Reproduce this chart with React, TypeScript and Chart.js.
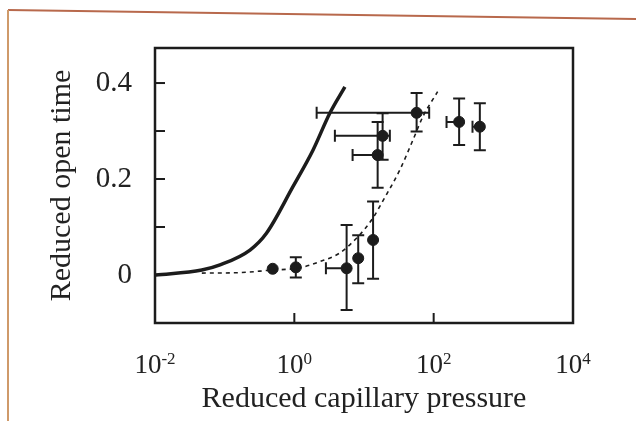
import React, { useEffect, useRef } from "react";
import { Chart, registerables } from "chart.js";

Chart.register(...registerables);

// Theory curve (solid)
const theoryX = [0.0102, 0.047, 0.0857, 0.231, 0.4, 0.955, 1.85, 3.24, 5.32];
const theoryY = [0, 0.0104, 0.021, 0.052, 0.0875, 0.184, 0.26, 0.3375, 0.392];

// Fit curve (dashed)
const fitX = [0.047, 0.166, 0.447, 1.2, 2.33, 4.5, 8.2, 12.9, 21.1, 32.7, 50.3, 70, 114];
const fitY = [0.004, 0.005, 0.01, 0.015, 0.028, 0.046, 0.08, 0.115, 0.168, 0.219, 0.281, 0.33, 0.382];

// Measured points with error bars
const ptX = [0.489, 1.05, 5.63, 8.26, 13.5, 15.7, 18.5, 56.9, 232, 460];
const ptY = [0.013, 0.016, 0.014, 0.035, 0.073, 0.25, 0.29, 0.338, 0.319, 0.309];
const ptYLow = [null, -0.005, -0.073, -0.017, -0.008, 0.182, 0.24, 0.299, 0.271, 0.26];
const ptYHigh = [null, 0.037, 0.104, 0.083, 0.153, 0.319, 0.337, 0.379, 0.368, 0.358];
const ptXLow = [null, null, 2.84, null, null, 6.86, 3.82, 2.09, 153, 361];
const ptXHigh = [null, null, null, null, null, null, 23.5, 86.2, null, null];

const xTickValues = [0.01, 1, 100, 10000];
const xTickExponents = ["-2", "0", "2", "4"];
const yTickValues = [0, 0.1, 0.2, 0.3, 0.4];
const yLabelled = [0, 0.2, 0.4];

const INK = "#1c1c1c";
const FONT = "'Liberation Serif', 'Times New Roman', serif";

const decorPlugin = {
  id: "decor",
  beforeDraw(chart: any) {
    const ctx = chart.ctx;
    const w = chart.width;
    const h = chart.height;
    ctx.save();
    ctx.fillStyle = "#ffffff";
    ctx.fillRect(0, 0, w, h);
    // scanned page edge
    ctx.lineWidth = 2;
    ctx.strokeStyle = "#b8694c";
    ctx.beginPath();
    ctx.moveTo(8, 10);
    ctx.lineTo(w, 19);
    ctx.stroke();
    ctx.strokeStyle = "#cf9a6a";
    ctx.beginPath();
    ctx.moveTo(8, 10);
    ctx.lineTo(8, h);
    ctx.stroke();
    ctx.restore();
  },
  afterDraw(chart: any) {
    const ctx = chart.ctx;
    const { left, right, top, bottom } = chart.chartArea;
    const xs = chart.scales.x;
    const ys = chart.scales.y;
    ctx.save();
    // frame
    ctx.strokeStyle = INK;
    ctx.lineWidth = 2.5;
    ctx.strokeRect(left, top, right - left, bottom - top);
    // inward ticks
    ctx.lineWidth = 2;
    yTickValues.forEach((v) => {
      const py = ys.getPixelForValue(v);
      ctx.beginPath();
      ctx.moveTo(left, py);
      ctx.lineTo(left + 10, py);
      ctx.stroke();
    });
    xTickValues.forEach((v) => {
      const px = xs.getPixelForValue(v);
      ctx.beginPath();
      ctx.moveTo(px, bottom);
      ctx.lineTo(px, bottom - 10);
      ctx.stroke();
    });
    // x tick labels with superscript exponents
    ctx.fillStyle = "#222";
    ctx.textBaseline = "alphabetic";
    ctx.textAlign = "left";
    xTickValues.forEach((v, i) => {
      const px = xs.getPixelForValue(v);
      ctx.font = `27px ${FONT}`;
      const w1 = ctx.measureText("10").width;
      ctx.font = `17px ${FONT}`;
      const w2 = ctx.measureText(xTickExponents[i]).width;
      const start = px - (w1 + w2) / 2;
      ctx.font = `27px ${FONT}`;
      ctx.fillText("10", start, bottom + 50);
      ctx.font = `17px ${FONT}`;
      ctx.fillText(xTickExponents[i], start + w1, bottom + 41);
    });
    // error bars
    ctx.strokeStyle = INK;
    ctx.lineWidth = 2;
    const cap = 6;
    ptX.forEach((xv, i) => {
      const px = xs.getPixelForValue(xv);
      const py = ys.getPixelForValue(ptY[i]);
      const yl = ptYLow[i];
      const yh = ptYHigh[i];
      if (yl !== null && yh !== null) {
        const p1 = ys.getPixelForValue(yl);
        const p2 = ys.getPixelForValue(yh);
        ctx.beginPath();
        ctx.moveTo(px, p1);
        ctx.lineTo(px, p2);
        ctx.moveTo(px - cap, p1);
        ctx.lineTo(px + cap, p1);
        ctx.moveTo(px - cap, p2);
        ctx.lineTo(px + cap, p2);
        ctx.stroke();
      }
      const xl = ptXLow[i];
      if (xl !== null) {
        const q = xs.getPixelForValue(xl);
        ctx.beginPath();
        ctx.moveTo(px, py);
        ctx.lineTo(q, py);
        ctx.moveTo(q, py - cap);
        ctx.lineTo(q, py + cap);
        ctx.stroke();
      }
      const xh = ptXHigh[i];
      if (xh !== null) {
        const q = xs.getPixelForValue(xh);
        ctx.beginPath();
        ctx.moveTo(px, py);
        ctx.lineTo(q, py);
        ctx.moveTo(q, py - cap);
        ctx.lineTo(q, py + cap);
        ctx.stroke();
      }
    });
    ctx.restore();
  },
};

export default function App() {
  const ref = useRef<HTMLCanvasElement | null>(null);
  useEffect(() => {
    if (!ref.current) return;
    const chart = new Chart(ref.current, {
      type: "scatter",
      data: {
        datasets: [
          {
            label: "theory",
            data: theoryX.map((x, i) => ({ x, y: theoryY[i] })),
            showLine: true,
            borderColor: INK,
            borderWidth: 3.5,
            pointRadius: 0,
            cubicInterpolationMode: "monotone",
          },
          {
            label: "fit",
            data: fitX.map((x, i) => ({ x, y: fitY[i] })),
            showLine: true,
            borderColor: INK,
            borderWidth: 1.6,
            borderDash: [4, 4],
            pointRadius: 0,
            cubicInterpolationMode: "monotone",
          },
          {
            label: "data",
            data: ptX.map((x, i) => ({ x, y: ptY[i] })),
            backgroundColor: INK,
            borderColor: INK,
            pointRadius: 5.5,
          },
        ],
      },
      options: {
        animation: false,
        responsive: false,
        devicePixelRatio: 1,
        layout: { padding: { left: 0, right: 63, top: 48, bottom: 0 } },
        plugins: { legend: { display: false }, tooltip: { enabled: false } },
        scales: {
          x: {
            type: "logarithmic",
            min: 0.01,
            max: 10000,
            grid: { display: false },
            border: { display: false },
            ticks: { display: false },
            afterBuildTicks: (s: any) => {
              s.ticks = xTickValues.map((v) => ({ value: v }));
            },
            afterFit: (s: any) => {
              s.height = 98;
            },
            title: {
              display: true,
              text: "Reduced capillary pressure",
              color: "#222",
              font: { family: FONT, size: 30 },
              padding: { top: 0, bottom: 4 },
            },
          },
          y: {
            type: "linear",
            min: -0.1,
            max: 0.473,
            grid: { display: false },
            border: { display: false },
            afterBuildTicks: (s: any) => {
              s.ticks = yTickValues.map((v) => ({ value: v }));
            },
            afterFit: (s: any) => {
              s.width = 155;
            },
            ticks: {
              color: "#222",
              padding: 15,
              font: { family: FONT, size: 29 },
              callback: (v: any) => {
                const n = Math.round(Number(v) * 10) / 10;
                return yLabelled.includes(n) ? String(n) : "";
              },
            },
            title: {
              display: true,
              text: "Reduced open time",
              color: "#222",
              font: { family: FONT, size: 30 },
              padding: { top: 44, bottom: 0 },
            },
          },
        },
      },
      plugins: [decorPlugin],
    } as any);
    return () => chart.destroy();
  }, []);
  return (
    <div style={{ position: "absolute", left: 0, top: 0, width: 636, height: 421 }}>
      <canvas ref={ref} width={636} height={421} style={{ display: "block" }} />
    </div>
  );
}
